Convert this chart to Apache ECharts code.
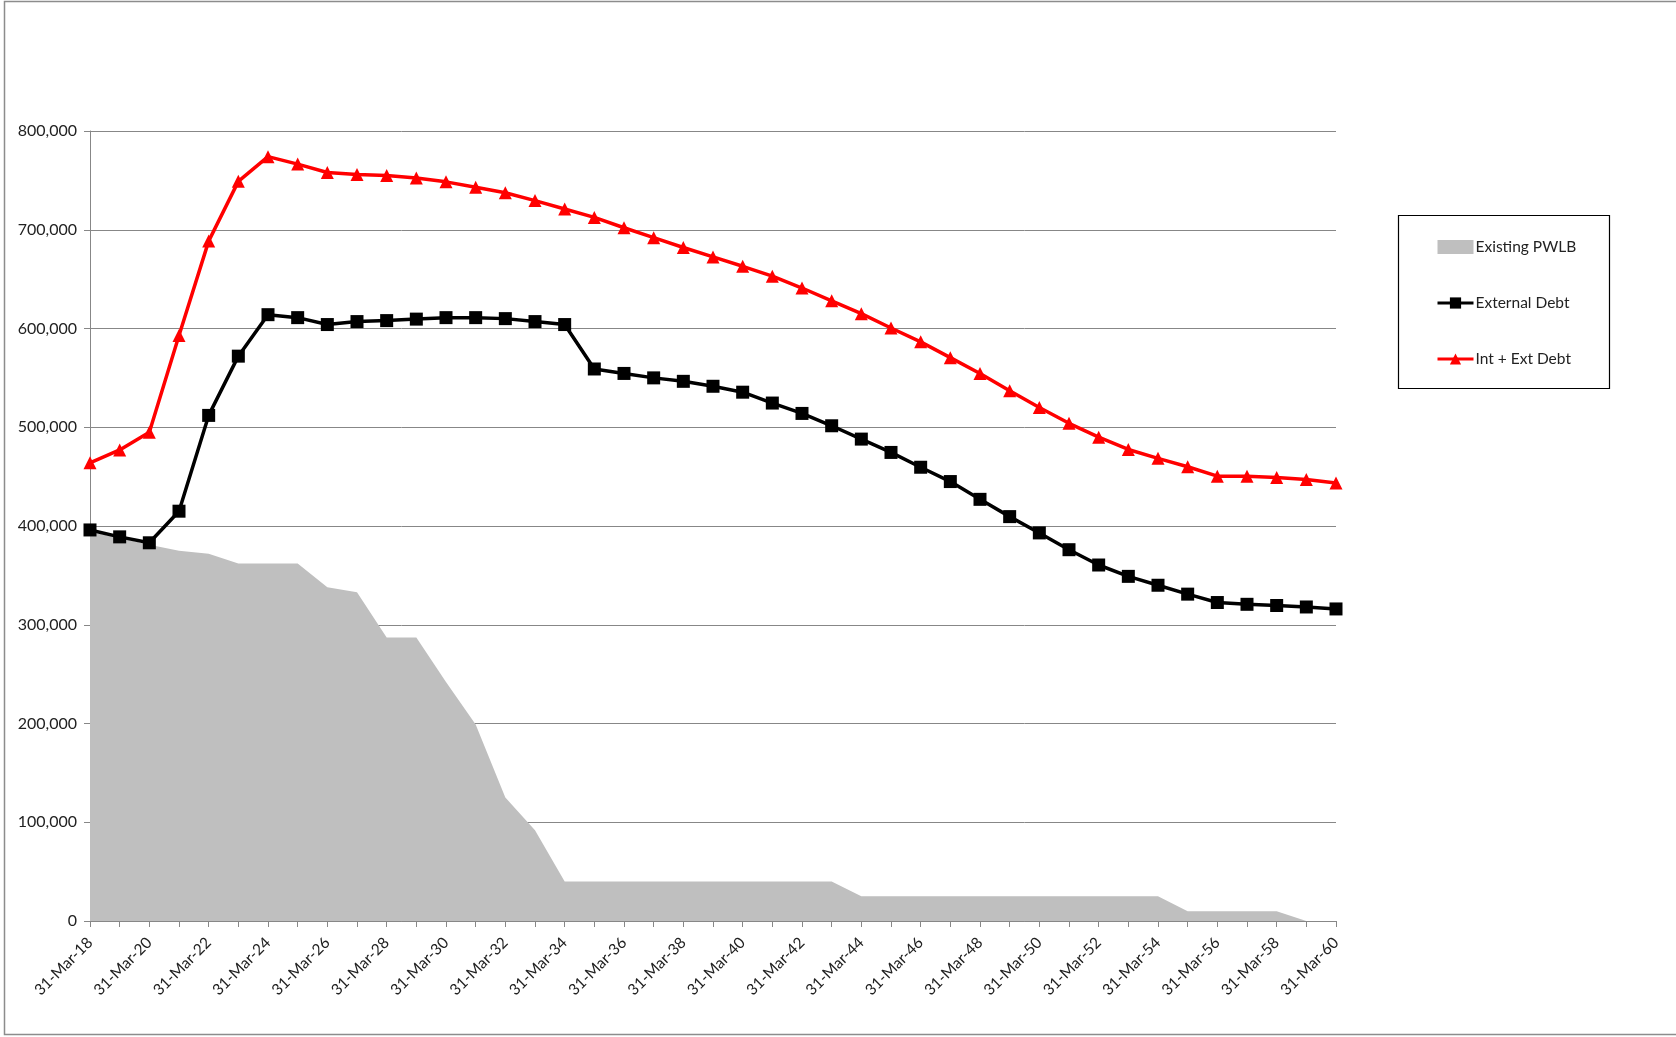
<!DOCTYPE html>
<html>
<head>
<meta charset="utf-8">
<title>Debt Profile</title>
<script src="https://cdn.jsdelivr.net/npm/echarts@6/dist/echarts.min.js"></script>
<style>
  html, body { margin: 0; padding: 0; background: #fff; }
  #chart { width: 1676px; height: 1037px; }
</style>
</head>
<body>
<div id="chart"></div>
<script>
// Year-end dates, 31 March 2018 to 31 March 2060
const years = [18,19,20,21,22,23,24,25,26,27,28,29,30,31,32,33,34,35,36,37,38,39,
               40,41,42,43,44,45,46,47,48,49,50,51,52,53,54,55,56,57,58,59,60];
const categories = years.map(y => '31-Mar-' + y);

// Existing PWLB loans outstanding
const existingPWLB = [
  394000, 388000, 381000, 375000, 372000, 362000, 362000, 362000, 338000, 333000,
  287000, 287000, 242000, 199000, 125000, 92000, 40000, 40000, 40000, 40000,
  40000, 40000, 40000, 40000, 40000, 40000, 25000, 25000, 25000, 25000,
  25000, 25000, 25000, 25000, 25000, 25000, 25000, 10000, 10000, 10000,
  10000, 0, 0
];

// External debt
const externalDebt = [
  396000, 389000, 383000, 415000, 512000, 572000, 614000, 611000, 604000, 607000,
  608000, 609500, 611000, 611000, 610000, 607000, 604000, 559000, 554500, 550000,
  546500, 541500, 535500, 524500, 514000, 501500, 488000, 474500, 459500, 445000,
  427000, 409500, 393000, 376000, 360500, 349000, 340000, 331000, 322500, 320700,
  319500, 318000, 316000
];

// Internal + external debt
const intExtDebt = [
  464000, 477000, 495000, 593000, 688500, 749000, 774000, 766500, 758000, 756000,
  755000, 752500, 748500, 743000, 737500, 729500, 721000, 712500, 702000, 692000,
  682000, 672500, 663000, 653000, 641000, 628000, 615000, 600500, 586500, 570500,
  554500, 537000, 520000, 504000, 490000, 477500, 468500, 460000, 450500, 450500,
  449000, 447000, 443500
];

const yTicks = [0, 100000, 200000, 300000, 400000, 500000, 600000, 700000, 800000];

const gridColor = '#878787';
const textFont = 'Lato, "Open Sans", "Noto Sans", sans-serif';

const chart = echarts.init(document.getElementById('chart'), null, { renderer: 'canvas' });

chart.setOption({
  backgroundColor: '#ffffff',
  animation: false,
  grid: { left: 90, right: 340, top: 131, bottom: 116, containLabel: false },
  legend: {
    orient: 'vertical',
    left: 1431,
    top: 234,
    itemGap: 40,
    itemWidth: 36,
    itemHeight: 14,
    textStyle: { fontFamily: textFont, fontSize: 15.5, color: '#222', padding: [0, 0, 0, -3] },
    data: [
      { name: 'Existing PWLB', icon: 'rect', itemStyle: { color: '#bfbfbf' } },
      { name: 'External Debt', lineStyle: { width: 3 } },
      { name: 'Int + Ext Debt', lineStyle: { width: 3 } }
    ]
  },
  graphic: [
    {
      type: 'rect',
      silent: true,
      shape: { x: 4.5, y: 1.5, width: 1700, height: 1033 },
      style: { fill: 'none', stroke: '#8c8c8c', lineWidth: 1.5 }
    },
    {
      type: 'rect',
      silent: true,
      shape: { x: 1398.5, y: 215.5, width: 211, height: 173 },
      style: { fill: 'none', stroke: '#000', lineWidth: 1.2 }
    }
  ],
  xAxis: {
    type: 'category',
    data: categories,
    boundaryGap: false,
    axisLine: { lineStyle: { color: gridColor, width: 1 } },
    axisTick: { show: true, interval: 0, length: 6, lineStyle: { color: gridColor } },
    axisLabel: {
      interval: 1,
      rotate: 45,
      margin: 19,
      fontFamily: textFont,
      fontSize: 15.5,
      color: '#222'
    },
    splitLine: { show: false }
  },
  yAxis: {
    type: 'value',
    min: yTicks[0],
    max: yTicks[yTicks.length - 1],
    interval: yTicks[1] - yTicks[0],
    axisLine: { show: true, lineStyle: { color: gridColor, width: 1 } },
    axisTick: { show: true, length: 6, lineStyle: { color: gridColor } },
    axisLabel: {
      margin: 13,
      fontFamily: textFont,
      fontSize: 16,
      color: '#222',
      formatter: v => v.toLocaleString('en-GB')
    },
    splitLine: { show: true, lineStyle: { color: gridColor, width: 1 } }
  },
  series: [
    {
      name: 'Existing PWLB',
      type: 'line',
      data: existingPWLB,
      symbol: 'none',
      lineStyle: { width: 0, color: '#bfbfbf' },
      itemStyle: { color: '#bfbfbf' },
      areaStyle: { color: '#bfbfbf', opacity: 1 },
      z: 1
    },
    {
      name: 'External Debt',
      type: 'line',
      data: externalDebt,
      symbol: 'rect',
      symbolSize: 13,
      lineStyle: { width: 3.5, color: '#000' },
      itemStyle: { color: '#000' },
      z: 3
    },
    {
      name: 'Int + Ext Debt',
      type: 'line',
      data: intExtDebt,
      symbol: 'triangle',
      symbolSize: 13,
      lineStyle: { width: 3.5, color: '#ff0000' },
      itemStyle: { color: '#ff0000' },
      z: 4
    }
  ]
});
</script>
</body>
</html>
